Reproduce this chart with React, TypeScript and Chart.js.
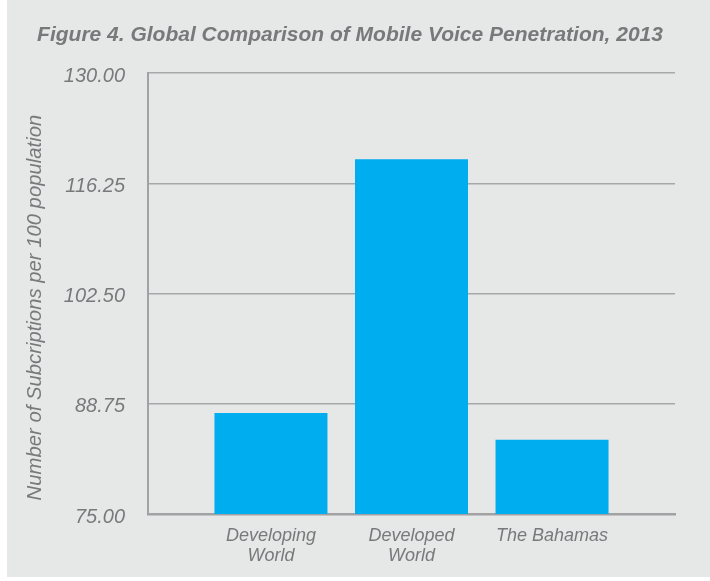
import React, { useEffect, useRef } from "react";
import { Chart, registerables } from "chart.js";

Chart.register(...registerables);

const categories: string[][] = [["Developing", "World"], ["Developed", "World"], ["The Bahamas"]];
const positions: number[] = [1, 2, 3];
const values: number[] = [87.6, 119.25, 84.25];
const yTicks: number[] = [75, 88.75, 102.5, 116.25, 130];
const titleText = "Figure 4. Global Comparison of Mobile Voice Penetration, 2013";
const yTitle = "Number of Subcriptions per 100 population     ";

const FONT = "'Liberation Sans', Arial, Helvetica, sans-serif";
const TEXT = "#79797c";
const GRID = "#a8a8ab";
const AXIS = "#a2a2a5";
const BAR = "#00adee";
const BG = "#e6e7e7";

export default function App() {
  const ref = useRef<HTMLCanvasElement | null>(null);

  useEffect(() => {
    if (!ref.current) return;
    const chart = new Chart(ref.current, {
      type: "bar",
      data: {
        datasets: [
          {
            data: positions.map((x, i) => ({ x, y: values[i] })),
            backgroundColor: BAR,
            borderWidth: 0,
            barPercentage: 1,
            categoryPercentage: 0.804,
          },
        ],
      },
      options: {
        animation: false,
        responsive: false,
        layout: { padding: { left: 0, right: 17, top: 0, bottom: 0 } },
        plugins: {
          legend: { display: false },
          tooltip: { enabled: false },
          title: {
            display: true,
            text: titleText,
            color: TEXT,
            font: { family: FONT, size: 21, weight: "bold", style: "italic", lineHeight: 1.2 },
            padding: { top: 23, bottom: 24.8 },
          },
        },
        scales: {
          x: {
            type: "linear",
            offset: false,
            min: 0.125,
            max: 3.875,
            afterBuildTicks: (scale: any) => {
              scale.ticks = positions.map((v) => ({ value: v }));
            },
            afterFit: (scale: any) => {
              scale.height = 63;
            },
            grid: { display: false, drawTicks: false, offset: false },
            border: { display: true, color: AXIS, width: 2.5 },
            ticks: {
              padding: 12,
              color: TEXT,
              maxRotation: 0,
              autoSkip: false,
              font: { family: FONT, size: 18, style: "italic", lineHeight: 1.1 },
              callback: (v: any) => {
                const i = positions.indexOf(Number(v));
                return i >= 0 ? categories[i] : "";
              },
            },
          },
          y: {
            min: 75,
            max: 130,
            afterBuildTicks: (scale: any) => {
              scale.ticks = yTicks.map((v) => ({ value: v }));
            },
            afterFit: (scale: any) => {
              scale.width = 141;
            },
            grid: { color: GRID, lineWidth: 1.5, drawTicks: false },
            border: { display: true, color: AXIS, width: 2 },
            ticks: {
              padding: 23,
              labelOffset: 3,
              color: TEXT,
              font: { family: FONT, size: 20, style: "italic" },
              callback: (v: any) => Number(v).toFixed(2),
            },
            title: {
              display: true,
              text: yTitle,
              color: TEXT,
              font: { family: FONT, size: 20.3, style: "italic", lineHeight: 1.2 },
              padding: { top: 16, bottom: 0 },
            },
          },
          yRight: {
            type: "linear",
            position: "right",
            display: true,
            grid: { display: false, drawTicks: false },
            border: { display: false },
            ticks: { display: false },
            afterFit: (scale: any) => {
              scale.width = 18;
            },
          },
        },
      },
    });
    return () => chart.destroy();
  }, []);

  return (
    <div
      style={{
        position: "absolute",
        left: 7,
        top: 0,
        width: 703,
        height: 577,
        background: BG,
      }}
    >
      <canvas ref={ref} width={703} height={577} style={{ display: "block" }} />
    </div>
  );
}
